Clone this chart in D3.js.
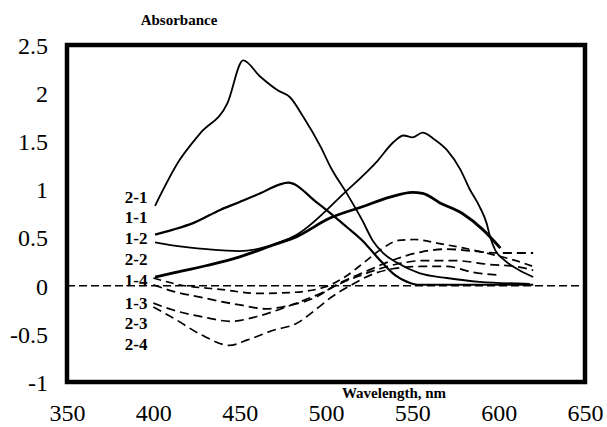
<!DOCTYPE html>
<html>
<head>
<meta charset="utf-8">
<script src="https://cdn.jsdelivr.net/npm/d3@7"></script>
</head>
<body style="margin:0">
<div id="chart"></div>
<script>
// absorbance spectra
var xTicks = [350, 400, 450, 500, 550, 600, 650];
var yTicks = [-1, -0.5, 0, 0.5, 1, 1.5, 2, 2.5];

var wl21 = [401, 415, 427, 443, 452, 462, 472, 479, 487, 497, 503, 512, 521, 527, 533, 541, 554, 570, 589, 618];
var ab21 = [0.83, 1.30, 1.58, 1.90, 2.34, 2.17, 2.03, 1.96, 1.75, 1.44, 1.22, 0.96, 0.68, 0.47, 0.34, 0.24, 0.13, 0.08, 0.04, 0.02];

var wl11 = [401, 411, 423, 439, 450, 462, 473, 478, 495, 512, 521, 531, 540, 547, 553, 570, 595, 620];
var ab11 = [0.53, 0.58, 0.65, 0.79, 0.87, 0.96, 1.05, 1.07, 0.86, 0.61, 0.47, 0.27, 0.11, 0.04, 0.01, 0.01, 0.01, 0.01];

var wl12 = [401, 411, 431, 450, 460, 473, 483, 511, 530, 539, 545, 550, 556, 562, 570, 578, 583, 589, 593, 595, 598, 603, 612, 620];
var ab12 = [0.45, 0.42, 0.38, 0.36, 0.38, 0.45, 0.53, 0.97, 1.30, 1.49, 1.56, 1.54, 1.59, 1.53, 1.41, 1.20, 1.01, 0.82, 0.65, 0.51, 0.37, 0.27, 0.16, 0.09];

var wl22 = [401, 411, 431, 450, 469, 483, 502, 521, 537, 550, 556, 566, 579, 591, 601];
var ab22 = [0.09, 0.13, 0.21, 0.30, 0.42, 0.51, 0.70, 0.82, 0.92, 0.97, 0.96, 0.86, 0.75, 0.58, 0.39];

var wl14 = [400, 415, 440, 460, 480, 500, 510, 522, 532, 542, 551, 565, 580, 595, 610, 620];
var ab14 = [0.08, 0.01, -0.04, -0.08, -0.07, -0.01, 0.08, 0.24, 0.38, 0.47, 0.48, 0.44, 0.39, 0.33, 0.26, 0.20];

var wl13 = [400, 410, 430, 450, 465, 480, 494, 505, 522, 541, 555, 570, 585, 600, 620];
var ab13 = [0.01, -0.05, -0.13, -0.20, -0.24, -0.20, -0.12, 0.0, 0.14, 0.28, 0.35, 0.38, 0.36, 0.34, 0.34];

var wl23 = [400, 411, 430, 445, 460, 480, 498, 508, 522, 540, 556, 575, 595, 610, 620];
var ab23 = [-0.18, -0.25, -0.33, -0.37, -0.32, -0.20, -0.07, 0.02, 0.12, 0.22, 0.26, 0.26, 0.22, 0.20, 0.16];

var wl24 = [400, 411, 430, 444, 455, 470, 482, 496, 503, 514, 527, 540, 555, 570, 585, 600];
var ab24 = [-0.22, -0.33, -0.53, -0.62, -0.56, -0.46, -0.40, -0.22, -0.12, 0.0, 0.12, 0.18, 0.20, 0.20, 0.14, 0.11];

var curveNames = ["2-1", "1-1", "1-2", "2-2", "1-4", "1-3", "2-3", "2-4"];
var curveLabelY = [0.92, 0.71, 0.50, 0.28, 0.06, -0.18, -0.39, -0.61];

var w = 607, h = 427;
var serif = "Liberation Serif";
var svg = d3.select("#chart").append("svg")
    .attr("width", w)
    .attr("height", h);

var x = d3.scaleLinear().domain([350, 650]).range([67, 585]);
var y = d3.scaleLinear().domain([-1, 2.5]).range([382, 45]);

// tick labels
svg.append("g")
    .attr("transform", "translate(0,413)")
    .call(d3.axisBottom(x).tickValues(xTicks).tickSize(0).tickPadding(0).tickFormat(d3.format("d")))
    .call(function(g) { g.select(".domain").remove(); })
    .selectAll("text")
    .attr("dy", "0.35em")
    .attr("fill", "#000")
    .style("font-family", serif)
    .style("font-size", "24px");

svg.append("g")
    .attr("transform", "translate(48,0)")
    .call(d3.axisLeft(y).tickValues(yTicks).tickSize(0).tickPadding(0).tickFormat(function(d) { return d; }))
    .call(function(g) { g.select(".domain").remove(); })
    .selectAll("text")
    .attr("dy", "0.35em")
    .attr("fill", "#000")
    .style("font-family", serif)
    .style("font-size", "24px");

// zero baseline
svg.append("line")
    .attr("x1", x(350)).attr("x2", x(650))
    .attr("y1", y(0)).attr("y2", y(0))
    .attr("stroke", "#000")
    .attr("stroke-width", 1.6)
    .attr("stroke-dasharray", "8,4");

var line = d3.line()
    .x(function(d) { return x(d[0]); })
    .y(function(d) { return y(d[1]); })
    .curve(d3.curveMonotoneX);

var series = [
    {wl: wl21, ab: ab21, sw: 1.8, dash: null},
    {wl: wl11, ab: ab11, sw: 2.2, dash: null},
    {wl: wl12, ab: ab12, sw: 1.8, dash: null},
    {wl: wl22, ab: ab22, sw: 2.8, dash: null},
    {wl: wl14, ab: ab14, sw: 1.7, dash: "8,5"},
    {wl: wl13, ab: ab13, sw: 1.8, dash: "9,5"},
    {wl: wl23, ab: ab23, sw: 1.7, dash: "9,5"},
    {wl: wl24, ab: ab24, sw: 1.7, dash: "9,5"}
];

svg.selectAll(".spec")
    .data(series)
    .enter()
    .append("path")
    .attr("class", "spec")
    .attr("fill", "none")
    .attr("stroke", "#000")
    .attr("stroke-width", function(d) { return d.sw; })
    .attr("stroke-dasharray", function(d) { return d.dash; })
    .attr("d", function(d) { return line(d3.zip(d.wl, d.ab)); });

// curve names stacked at the left
svg.selectAll(".cname")
    .data(curveNames)
    .enter()
    .append("text")
    .attr("class", "cname")
    .attr("x", x(383.5))
    .attr("y", function(d, i) { return y(curveLabelY[i]); })
    .attr("dy", "0.35em")
    .style("font-family", serif)
    .style("font-size", "17px")
    .style("font-weight", "bold")
    .text(function(d) { return d; });

// frame
svg.append("rect")
    .attr("x", 67).attr("y", 45)
    .attr("width", 518).attr("height", 337)
    .attr("fill", "none")
    .attr("stroke", "#000")
    .attr("stroke-width", 4.5);

svg.append("text")
    .attr("x", 179).attr("y", 25)
    .style("text-anchor", "middle")
    .style("font-family", serif)
    .style("font-size", "15px")
    .style("font-weight", "bold")
    .text("Absorbance");

svg.append("text")
    .attr("x", 394).attr("y", 398)
    .style("text-anchor", "middle")
    .style("font-family", serif)
    .style("font-size", "15px")
    .style("font-weight", "bold")
    .text("Wavelength, nm");
</script>
</body>
</html>
